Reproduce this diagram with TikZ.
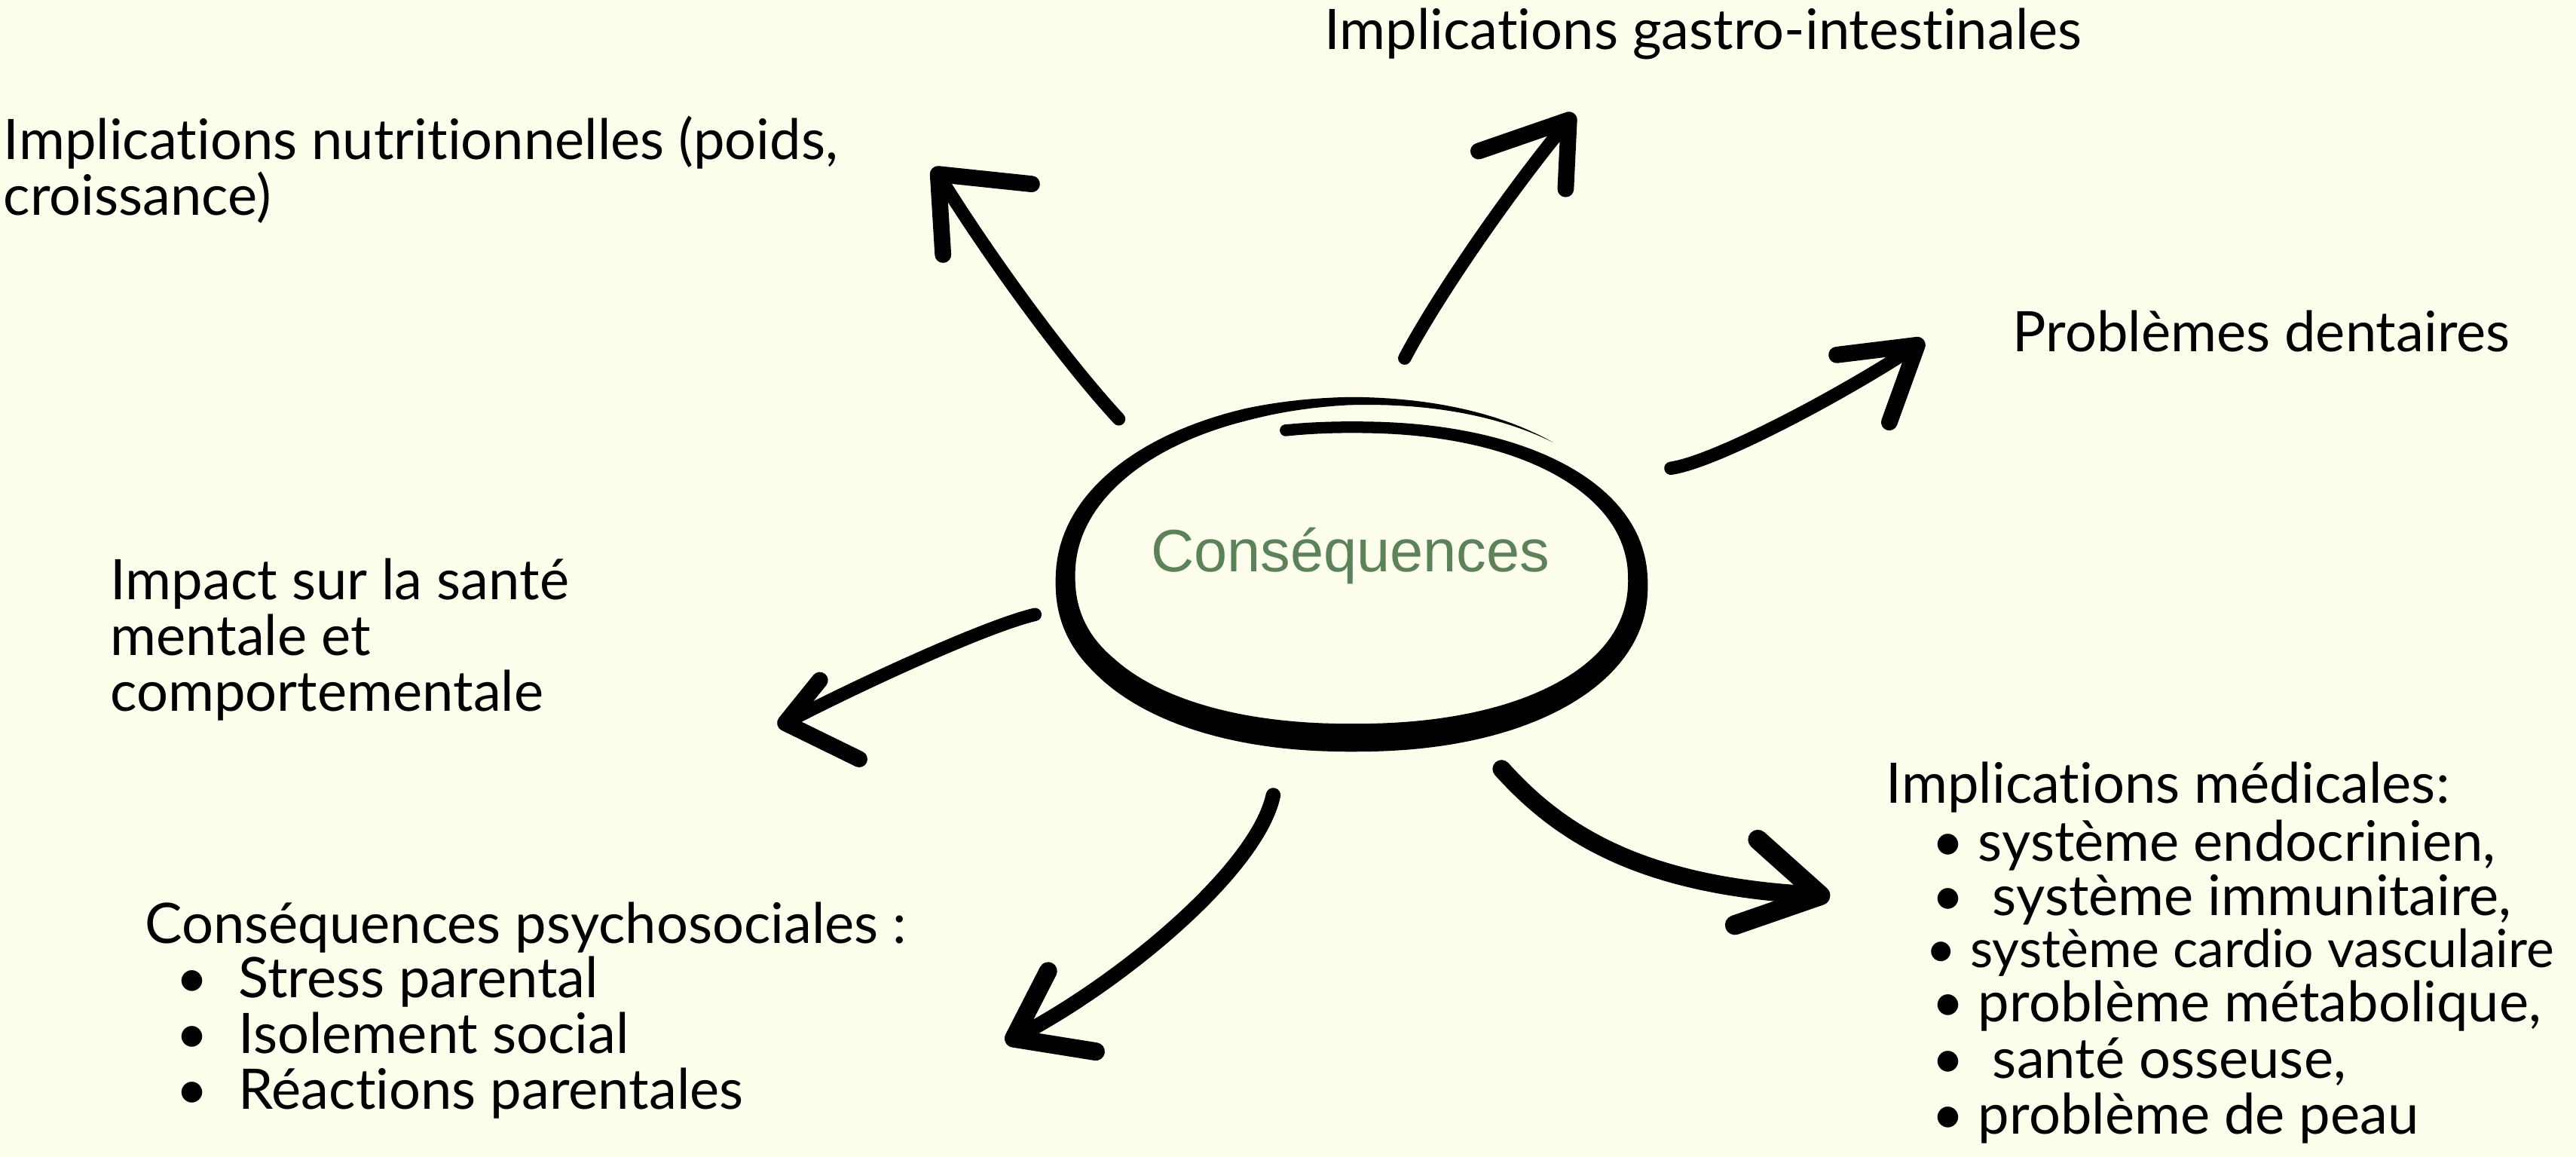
\documentclass[tikz,border=0pt]{standalone}
\usepackage{fontspec}
\setmainfont{Lato}[Ligatures={TeX,NoCommon}]
\newfontfamily\centrefont{Liberation Sans}
\definecolor{paper}{HTML}{FEFEEC}
\definecolor{sage}{HTML}{5B8259}
\newcommand{\itemdot}[1][38pt]{\makebox[#1][l]{•}}
\tikzset{
  txt/.style={anchor=base west, inner sep=0pt, font=\fontsize{34}{38}\selectfont},
  shaft/.style={line width=8pt, line cap=round},
  barb/.style={line width=10pt, line cap=round, line join=round},
}
\begin{document}
\begin{tikzpicture}[x=1pt, y=-1pt,
  declare function={
    ringx(\t)=cos(\t)*pow(abs(cos(\t))+0.0001,-0.08);
    ringy(\t)=sin(\t)*pow(abs(sin(\t))+0.0001,-0.08);
    ringrx(\t)=173.5+6*min(1,max(0,(\t-150)/120));
    ringry(\t)=94.5+16*min(1,max(0,(\t-150)/120));
    ringw(\t)=(12+5*sin(\t))*min(1,(311-\t)/60)/2;
  }]
  \fill[paper] (0,0) rectangle (1568,704);
  \useasboundingbox (0,0) rectangle (1568,704);

  % centre
  \node[anchor=base, inner sep=0pt, text=sage, font=\centrefont\fontsize{36.4}{42}\selectfont] (cons) at (822,348) {Conséquences};
  \fill plot[domain=-102:311, samples=200, variable=\t]
      ({823.5+(ringrx(\t)+ringw(\t))*ringx(\t)}, {354.5+(ringry(\t)+ringw(\t))*ringy(\t)})
    -- plot[domain=311:-102, samples=200, variable=\t]
      ({823.5+(ringrx(\t)-ringw(\t))*ringx(\t)}, {354.5+(ringry(\t)-ringw(\t))*ringy(\t)})
    -- cycle;
  \fill (782.6,261.9) circle (3.6);

  % texts
  \node[txt] (gastro) at (806,30) {Implications gastro-intestinales};
  \node[txt] (nutri1) at (2,97) {Implications nutritionnelles (poids,};
  \node[txt] (nutri2) at (2,131) {croissance)};
  \node[txt] (dent) at (1225,214) {Problèmes dentaires};
  \node[txt] (impact1) at (67,365) {Impact sur la santé};
  \node[txt] (impact2) at (67,399) {mentale et};
  \node[txt] (impact3) at (67,433) {comportementale};
  \node[txt] (psy) at (88,574) {Conséquences psychosociales :};
  \node[txt] (psy1) at (107,607) {\itemdot Stress parental};
  \node[txt] (psy2) at (107,641) {\itemdot Isolement social};
  \node[txt] (psy3) at (107,675) {\itemdot Réactions parentales};
  \node[txt] (med) at (1148,489) {Implications médicales:};
  \node[txt] (med1) at (1176,524) {\itemdot[28pt]système endocrinien,};
  \node[txt] (med2) at (1176,557) {\itemdot[28pt] système immunitaire,};
  \node[txt, font=\fontsize{32}{36}\selectfont] (med3) at (1172,589) {\itemdot[27pt]système cardio vasculaire};
  \node[txt] (med4) at (1176,622) {\itemdot[28pt]problème métabolique,};
  \node[txt] (med5) at (1176,656) {\itemdot[28pt] santé osseuse,};
  \node[txt] (med6) at (1176,690) {\itemdot[28pt]problème de peau};

  % arrow ends
  \coordinate (nutT) at (681,255);  \coordinate (nutH) at (571,106);
  \coordinate (nutA) at (628,112);  \coordinate (nutB) at (574,155);
  \coordinate (gasT) at (855,218);  \coordinate (gasH) at (955,73);
  \coordinate (gasA) at (900,92);   \coordinate (gasB) at (953,115);
  \coordinate (denT) at (1017,285); \coordinate (denH) at (1167,210);
  \coordinate (denA) at (1118,216); \coordinate (denB) at (1150,257);
  \coordinate (impT) at (630,374);  \coordinate (impH) at (478,440);
  \coordinate (impA) at (499,414);  \coordinate (impB) at (523,462);
  \coordinate (psyT) at (775,484);  \coordinate (psyH) at (617,632);
  \coordinate (psyA) at (638,591);  \coordinate (psyB) at (667,640);
  \coordinate (medT) at (914,468);  \coordinate (medH) at (1108,545);
  \coordinate (medA) at (1070,511); \coordinate (medB) at (1056,563);

  % arrows
  \draw[shaft] (nutT) .. controls (645,216) and (598,150) .. (nutH);
  \draw[barb] (nutA) -- (nutH) -- (nutB);
  \draw[shaft] (gasT) .. controls (875,180) and (920,115) .. (gasH);
  \draw[barb] (gasA) -- (gasH) -- (gasB);
  \draw[shaft] (denT) .. controls (1045,281) and (1125,238) .. (denH);
  \draw[barb] (denA) -- (denH) -- (denB);
  \draw[shaft] (impT) .. controls (600,381) and (520,418) .. (impH);
  \draw[barb] (impA) -- (impH) -- (impB);
  \draw[shaft, line width=9pt] (psyT) .. controls (765,530) and (680,600) .. (psyH);
  \draw[barb, line width=11pt] (psyA) -- (psyH) -- (psyB);
  \draw[shaft, line width=11pt] (medT) .. controls (950,508) and (1000,540) .. (medH);
  \draw[barb, line width=12pt] (medA) -- (medH) -- (medB);
\end{tikzpicture}
\end{document}
